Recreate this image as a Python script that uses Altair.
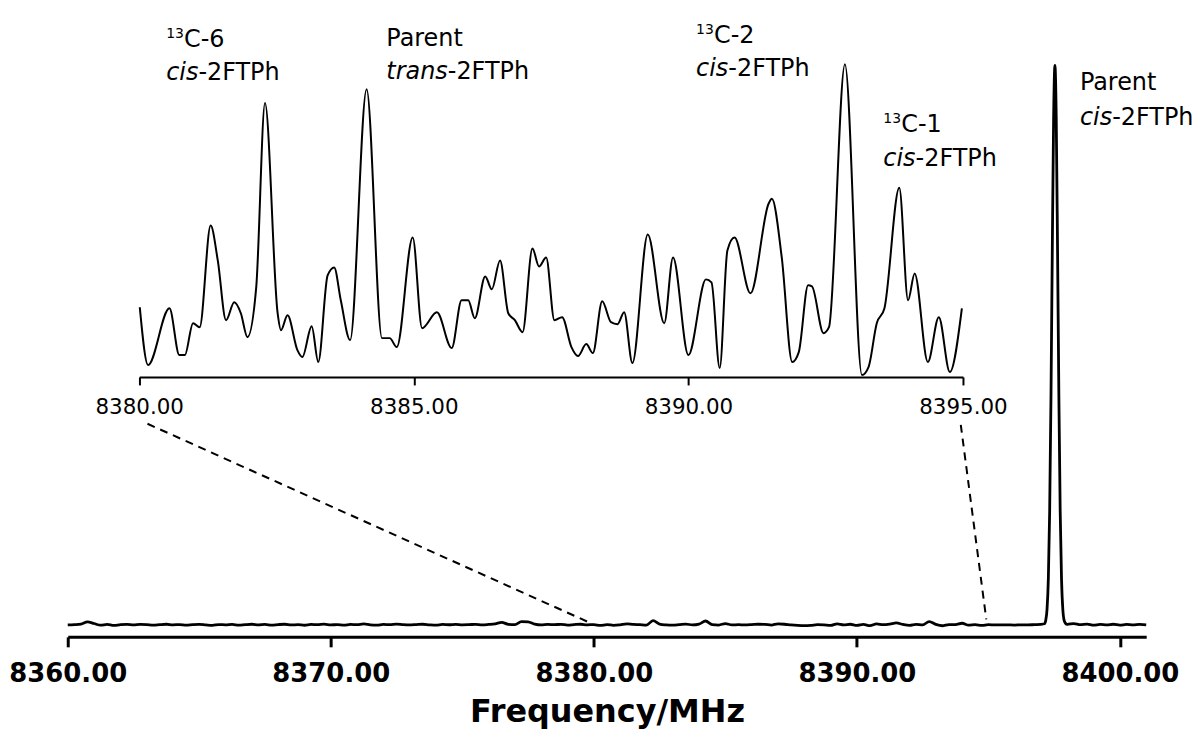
import altair as alt
import pandas as pd

# ---------------- data ----------------
# Inset spectrum (8380-8395 MHz), intensity in arbitrary units
inset_freq = [8380.01, 8380.16, 8380.55, 8380.73, 8380.83, 8380.98, 8381.10, 8381.30, 8381.43, 8381.58,
              8381.73, 8381.85, 8381.97, 8382.13, 8382.29, 8382.52, 8382.58, 8382.70, 8382.88, 8382.97,
              8383.14, 8383.26, 8383.43, 8383.55, 8383.67, 8383.84, 8384.14, 8384.42, 8384.56, 8384.69,
              8384.98, 8385.15, 8385.42, 8385.69, 8385.87, 8385.99, 8386.11, 8386.30, 8386.42, 8386.57,
              8386.72, 8386.84, 8386.98, 8387.16, 8387.28, 8387.41, 8387.56, 8387.70, 8387.87, 8387.99,
              8388.14, 8388.26, 8388.43, 8388.59, 8388.71, 8388.83, 8388.98, 8389.26, 8389.56, 8389.72,
              8390.00, 8390.32, 8390.42, 8390.57, 8390.71, 8390.84, 8391.13, 8391.46, 8391.52, 8391.70,
              8391.89, 8392.01, 8392.18, 8392.25, 8392.46, 8392.56, 8392.85, 8393.16, 8393.28, 8393.43,
              8393.57, 8393.84, 8394.00, 8394.12, 8394.36, 8394.56, 8394.76, 8394.98]
inset_int = [71, 13, 70, 23, 23, 55, 51, 153, 118, 58,
             76, 65, 41, 91, 276, 65, 48, 63, 28, 21,
             52, 16, 103, 111, 78, 38, 290, 40, 40, 31,
             141, 50, 66, 30, 78, 78, 60, 102, 89, 118,
             65, 58, 46, 130, 112, 121, 58, 61, 31, 22,
             34, 25, 77, 56, 54, 66, 15, 144, 55, 121,
             23, 99, 96, 10, 128, 141, 85, 175, 180, 121,
             16, 26, 93, 92, 45, 51, 315, 3, 11, 55,
             70, 191, 78, 105, 16, 61, 6, 70]

# Full spectrum baseline (8360-8401 MHz, 0.25 MHz steps, peak region excluded)
base_start, base_step = 8360.0, 0.25
base_int = [0.00, 0.05, 0.15, 0.55, 0.25, -0.05, 0.10, -0.10, 0.05, 0.10, 0.00, 0.08,
            0.05, -0.05, 0.05, 0.12, 0.02, 0.06, -0.04, 0.05, 0.10, 0.00, -0.08, 0.06,
            0.02, 0.10, -0.05, 0.05, 0.12, 0.02, 0.08, -0.04, 0.06, 0.12, 0.00, 0.05,
            -0.06, 0.10, 0.04, 0.14, 0.00, 0.06, -0.05, 0.08, 0.05, 0.18, 0.02, -0.05,
            0.10, 0.04, 0.15, 0.05, 0.00, 0.06, 0.12, 0.02, -0.04, 0.08, 0.03, 0.10,
            0.02, 0.05, 0.10, 0.00, 0.08, 0.20, 0.45, 0.10, 0.05, 0.60, 0.55, 0.15,
            0.00, 0.08, 0.05, 0.10, -0.02, 0.06, 0.12, 0.02, 0.05, -0.10, 0.06, -0.08,
            0.02, 0.20, 0.10, 0.05, -0.02, 0.75, 0.15, 0.00, -0.05, 0.05, 0.15, 0.00,
            0.15, 0.70, 0.05, -0.02, 0.25, 0.00, 0.05, 0.00, 0.05, 0.12, 0.10, -0.02,
            0.18, 0.12, 0.00, -0.08, -0.12, -0.08, 0.05, 0.00, -0.10, 0.20, 0.02, 0.12,
            -0.10, 0.08, -0.12, 0.18, 0.05, 0.15, 0.35, 0.08, -0.08, 0.10, 0.00, 0.60,
            0.10, -0.15, 0.05, 0.05, 0.30, -0.05, 0.05, -0.08, 0.05, 0.00, 0.02, 0.00,
            -0.02, 0.02, 0.00, 0.05, 0.10, None, None, None, 0.10, 0.25, 0.05, 0.15,
            -0.05, 0.10, 0.00, 0.12, -0.03, 0.08, 0.00, 0.10, 0.02]

# Parent cis-2FTPh line
peak_freq = [8397.13, 8397.18, 8397.23, 8397.28, 8397.33, 8397.38, 8397.43, 8397.48, 8397.53,
             8397.58, 8397.63, 8397.68, 8397.73, 8397.78, 8397.83, 8397.88, 8397.93]
peak_int = [0.2, 0.8, 2.8, 8.3, 20.3, 40.8, 67.0, 90.5, 100.0,
            90.5, 67.0, 40.8, 20.3, 8.3, 2.8, 0.8, 0.3]

main_ticks = [8360, 8370, 8380, 8390, 8400]
inset_ticks = [8380, 8385, 8390, 8395]

# ---------------- layout (plot-area pixels) ----------------
W, H = 1186, 630
MAIN_DOM = [8360, 8401]
MAIN_XR = [58, 1141]
MAIN_YDOM = [0, 100]
MAIN_YR = [618, 56]
INSET_DOM = [8380, 8395]
INSET_XR = [129.8, 957]
INSET_YDOM = [0, 320]
INSET_YR = [370, 50]

FONT = "DejaVu Sans"

main_xs = alt.Scale(domain=MAIN_DOM, range=MAIN_XR, nice=False, zero=False)
main_ys = alt.Scale(domain=MAIN_YDOM, range=MAIN_YR, nice=False, zero=False)
inset_xs = alt.Scale(domain=INSET_DOM, range=INSET_XR, nice=False, zero=False)
inset_ys = alt.Scale(domain=INSET_YDOM, range=INSET_YR, nice=False, zero=False)

rows = [(base_start + i * base_step, v) for i, v in enumerate(base_int) if v is not None]
rows += list(zip(peak_freq, peak_int))
main_df = pd.DataFrame(rows, columns=["freq", "intensity"]).sort_values("freq")
inset_df = pd.DataFrame({"freq": inset_freq, "intensity": inset_int})


def inset_to_main(f, v):
    px = INSET_XR[0] + (f - INSET_DOM[0]) / (INSET_DOM[1] - INSET_DOM[0]) * (INSET_XR[1] - INSET_XR[0])
    py = INSET_YR[0] + (v - INSET_YDOM[0]) / (INSET_YDOM[1] - INSET_YDOM[0]) * (INSET_YR[1] - INSET_YR[0])
    mf = MAIN_DOM[0] + (px - MAIN_XR[0]) / (MAIN_XR[1] - MAIN_XR[0]) * (MAIN_DOM[1] - MAIN_DOM[0])
    mv = MAIN_YDOM[0] + (py - MAIN_YR[0]) / (MAIN_YR[1] - MAIN_YR[0]) * (MAIN_YDOM[1] - MAIN_YDOM[0])
    return mf, mv


# connector lines: start below inset labels, end on main trace
conn_start_inset = [(8380.15, -46), (8394.96, -47)]
conn_end_main = [(8379.75, 0.6), (8394.92, 1.0)]
conn_rows = []
for k, ((fs, vs), (fe, ve)) in enumerate(zip(conn_start_inset, conn_end_main)):
    mf, mv = inset_to_main(fs, vs)
    conn_rows.append({"id": k, "freq": mf, "intensity": mv})
    conn_rows.append({"id": k, "freq": fe, "intensity": ve})
conn_df = pd.DataFrame(conn_rows)

# ---------------- layers ----------------
main_line = alt.Chart(main_df).mark_line(color="black", strokeWidth=2.8, interpolate="monotone").encode(
    x=alt.X("freq:Q", scale=main_xs,
            axis=alt.Axis(values=main_ticks, format=".2f", title="Frequency/MHz", grid=False,
                          labelFont=FONT, labelFontWeight="bold", labelFontSize=26, labelColor="black",
                          labelPadding=14, labelFlush=False, labelOverlap=False,
                          titleFont=FONT, titleFontWeight="bold", titleFontSize=32, titleColor="black",
                          titlePadding=10, domainColor="black", domainWidth=3,
                          tickColor="black", tickWidth=3, tickSize=10)),
    y=alt.Y("intensity:Q", scale=main_ys, axis=None),
)

inset_line = alt.Chart(inset_df).mark_line(color="black", strokeWidth=2, interpolate="monotone").encode(
    x=alt.X("freq:Q", scale=inset_xs,
            axis=alt.Axis(orient="bottom", offset=-261, values=inset_ticks, format=".2f", title=None,
                          grid=False, labelFont=FONT, labelFontSize=21.5, labelColor="black",
                          labelPadding=12, labelFlush=False, labelOverlap=False,
                          domainColor="black", domainWidth=2, tickColor="black", tickWidth=2,
                          tickSize=8)),
    y=alt.Y("intensity:Q", scale=inset_ys, axis=None),
)

connectors = alt.Chart(conn_df).mark_line(color="black", strokeWidth=2, strokeDash=[8, 6]).encode(
    x=alt.X("freq:Q", scale=main_xs, axis=None),
    y=alt.Y("intensity:Q", scale=main_ys, axis=None),
    detail="id:N",
)

# annotations
ann_inset_x = [8380.49, 8384.50, 8390.14, 8393.55]
ann_inset_line1 = [332, 333, 336, 247]
ann_inset_line2 = [299, 300, 303, 213]
parent_x, parent_y1, parent_y2 = 8398.48, 95.5, 89.3

CIS_W = 32.4
TRANS_W = 61.7
SUP_W = 18


def text_layer(df, xs, ys, dx=0, dy=0, italic=False, size=24):
    return alt.Chart(df).mark_text(
        align="left", baseline="alphabetic", font=FONT, fontSize=size,
        fontStyle="italic" if italic else "normal", dx=dx, dy=dy, color="black"
    ).encode(
        x=alt.X("x:Q", scale=xs, axis=None),
        y=alt.Y("y:Q", scale=ys, axis=None),
        text="t:N",
    )


iso_idx = [0, 2, 3]
sup_df = pd.DataFrame({"x": [ann_inset_x[i] for i in iso_idx],
                       "y": [ann_inset_line1[i] for i in iso_idx], "t": ["13", "13", "13"]})
iso_df = pd.DataFrame({"x": [ann_inset_x[i] for i in iso_idx],
                       "y": [ann_inset_line1[i] for i in iso_idx], "t": ["C-6", "C-2", "C-1"]})
cis_df = pd.DataFrame({"x": [ann_inset_x[i] for i in iso_idx],
                       "y": [ann_inset_line2[i] for i in iso_idx], "t": ["cis", "cis", "cis"]})
cis_rest_df = pd.DataFrame({"x": [ann_inset_x[i] for i in iso_idx],
                            "y": [ann_inset_line2[i] for i in iso_idx], "t": ["-2FTPh"] * 3})
trans_parent_df = pd.DataFrame({"x": [ann_inset_x[1]], "y": [ann_inset_line1[1]], "t": ["Parent"]})
trans_df = pd.DataFrame({"x": [ann_inset_x[1]], "y": [ann_inset_line2[1]], "t": ["trans"]})
trans_rest_df = pd.DataFrame({"x": [ann_inset_x[1]], "y": [ann_inset_line2[1]], "t": ["-2FTPh"]})

pc_parent_df = pd.DataFrame({"x": [parent_x], "y": [parent_y1], "t": ["Parent"]})
pc_cis_df = pd.DataFrame({"x": [parent_x], "y": [parent_y2], "t": ["cis"]})
pc_rest_df = pd.DataFrame({"x": [parent_x], "y": [parent_y2], "t": ["-2FTPh"]})

layers = [
    main_line,
    inset_line,
    connectors,
    text_layer(sup_df, inset_xs, inset_ys, dy=-9, size=14),
    text_layer(iso_df, inset_xs, inset_ys, dx=SUP_W),
    text_layer(cis_df, inset_xs, inset_ys, italic=True),
    text_layer(cis_rest_df, inset_xs, inset_ys, dx=CIS_W),
    text_layer(trans_parent_df, inset_xs, inset_ys),
    text_layer(trans_df, inset_xs, inset_ys, italic=True),
    text_layer(trans_rest_df, inset_xs, inset_ys, dx=TRANS_W),
    text_layer(pc_parent_df, main_xs, main_ys),
    text_layer(pc_cis_df, main_xs, main_ys, italic=True),
    text_layer(pc_rest_df, main_xs, main_ys, dx=CIS_W),
]

chart = alt.layer(*layers).resolve_scale(x="independent", y="independent").properties(
    width=W, height=H, padding=0, background="white"
).configure_view(stroke=None)

chart.save("out.html", embed_options={"renderer": "svg", "actions": False})
